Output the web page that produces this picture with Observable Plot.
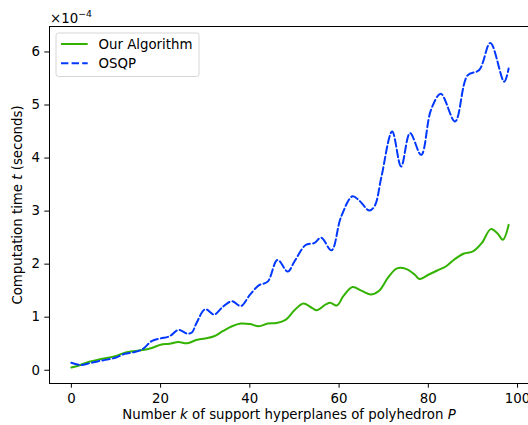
<!DOCTYPE html>
<html><head><meta charset="utf-8">
<script src="https://cdn.jsdelivr.net/npm/d3@7"></script>
<script src="https://cdn.jsdelivr.net/npm/@observablehq/plot@0.6"></script>
<style>body{margin:0;background:#fff;overflow:hidden} svg{display:block}</style>
</head><body><div id="chart"></div>
<script>
// values in units of 1e-4 seconds
const oursK = [0,2,4,6,8,10,12,14,16,18,20,22,24,26,28,30,32,34,36,38,40,42,44,46,48,50,52,54,55,57,58,59.5,61,63,65,67,69,71,73,75,77,78,80,82,84,86,88,90,92,94,95.5,96.7,98];
const oursT = [0.05,0.10,0.16,0.20,0.23,0.27,0.33,0.36,0.38,0.42,0.48,0.50,0.53,0.51,0.57,0.60,0.64,0.74,0.83,0.88,0.87,0.83,0.88,0.89,0.95,1.13,1.26,1.17,1.13,1.24,1.27,1.22,1.40,1.57,1.50,1.43,1.50,1.75,1.92,1.91,1.80,1.72,1.80,1.88,1.96,2.10,2.20,2.24,2.40,2.66,2.58,2.46,2.74];
const osqpK = [0,2,4,6,8,10,12,14,16,18,20,22,24,26,27,28,30,32,34,36,38,40,42,44,46.2,48.5,50,52.5,54.5,56,58.3,60.4,63,64.5,66.8,68,69.5,71.9,73.9,75.9,78.4,80.6,82.8,86,88.8,91.4,93.9,97,98];
const osqpT = [0.14,0.10,0.13,0.17,0.20,0.24,0.31,0.34,0.40,0.55,0.60,0.64,0.76,0.69,0.71,0.88,1.15,1.05,1.20,1.30,1.21,1.42,1.60,1.67,2.08,1.86,2.05,2.36,2.40,2.50,2.26,2.88,3.28,3.20,3.01,3.10,3.65,4.50,3.84,4.47,4.06,4.91,5.21,4.69,5.56,5.66,6.17,5.44,5.69];
const xTicks = [0,20,40,60,80,100];
const yTicks = [0,1,2,3,4,5,6];
const seriesNames = ["Our Algorithm","OSQP"];
const seriesColors = ["#33b300","#0038ff"];

const ours = oursK.map((k,i)=>({k, t: oursT[i]}));
const osqp = osqpK.map((k,i)=>({k, t: osqpT[i]}));
const font = "'DejaVu Sans', sans-serif";
const fs = 13.33;
const dash = "7.4,3.2";

const chart = Plot.plot({
  width: 528, height: 425,
  marginLeft: 49, marginRight: -2, marginTop: 26, marginBottom: 42,
  style: {fontFamily: font, fontSize: fs + "px", color: "#000", background: "#fff"},
  x: {domain: [-4.9, 102.9]},
  y: {domain: [-0.25, 6.48]},
  marks: [
    Plot.axisX({ticks: xTicks, tickFormat: d3.format("d"), tickSize: 4.7, tickPadding: 5.3, label: null, stroke: "#000", strokeWidth: 1, fontSize: fs}),
    Plot.axisY({ticks: yTicks, tickFormat: d3.format("d"), tickSize: 4.7, tickPadding: 4.7, label: null, stroke: "#000", strokeWidth: 1, fontSize: fs}),
    Plot.line(ours, {x: "k", y: "t", stroke: seriesColors[0], strokeWidth: 2, curve: "catmull-rom"}),
    Plot.line(osqp, {x: "k", y: "t", stroke: seriesColors[1], strokeWidth: 2, strokeDasharray: dash, curve: "catmull-rom"}),
    Plot.frame({stroke: "#000", strokeWidth: 1})
  ]
});
document.getElementById("chart").appendChild(chart);

const svg = d3.select(chart);
// x label
const xl = svg.append("text").attr("x", 289).attr("y", 418.5).attr("text-anchor", "middle")
  .style("font-family", font).style("font-size", fs + "px").attr("fill", "#000");
xl.append("tspan").text("Number ");
xl.append("tspan").attr("font-style", "italic").text("k");
xl.append("tspan").text(" of support hyperplanes of polyhedron ");
xl.append("tspan").attr("font-style", "italic").text("P");
// y label
const yl = svg.append("text").attr("transform", "translate(21.5,205) rotate(-90)").attr("text-anchor", "middle")
  .style("font-family", font).style("font-size", fs + "px").attr("fill", "#000");
yl.append("tspan").text("Computation time ");
yl.append("tspan").attr("font-style", "italic").text("t");
yl.append("tspan").text(" (seconds)");
// offset text
const ot = svg.append("text").attr("x", 50).attr("y", 22.5).attr("text-anchor", "start")
  .style("font-family", font).style("font-size", fs + "px").attr("fill", "#000");
ot.append("tspan").text("×10");
ot.append("tspan").attr("dy", -6).style("font-size", "9.3px").text("−4");
// legend
const lg = svg.append("g").attr("text-anchor", "start");
lg.append("rect").attr("x", 56).attr("y", 33).attr("width", 143).attr("height", 43.5).attr("rx", 2.5)
  .attr("fill", "#fff").attr("fill-opacity", 0.8).attr("stroke", "#d6d6d6");
seriesNames.forEach((name, i) => {
  const yy = 44 + i * 19.3;
  lg.append("line").attr("x1", 61).attr("x2", 87.7).attr("y1", yy).attr("y2", yy)
    .attr("stroke", seriesColors[i]).attr("stroke-width", 2).attr("stroke-dasharray", i ? dash : null);
  lg.append("text").attr("x", 98.5).attr("y", yy + 4.8).attr("text-anchor", "start").text(name)
    .style("font-family", font).style("font-size", fs + "px").attr("fill", "#000");
});
</script></body></html>
